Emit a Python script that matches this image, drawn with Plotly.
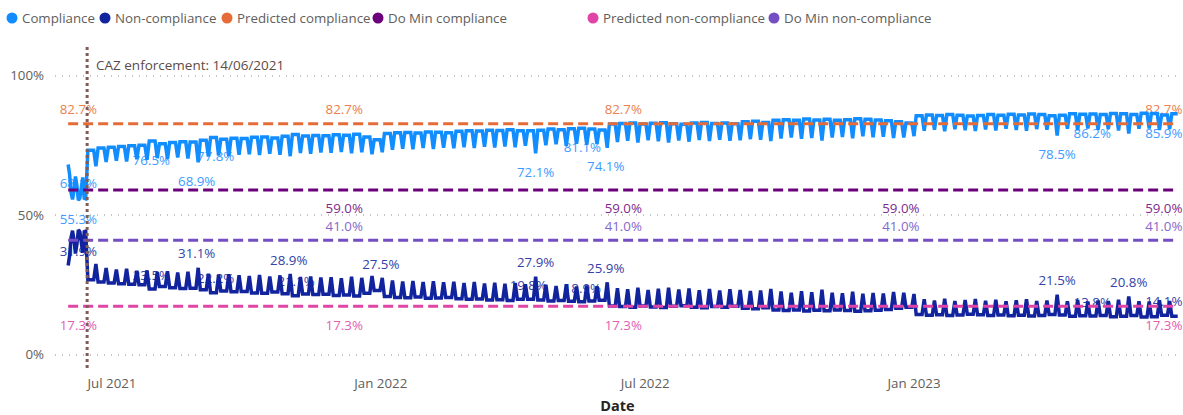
"""CAZ compliance vs. predicted / Do-Min scenarios, drawn with Plotly.

Daily compliance shows a weekly cycle: a weekday level and a weekend dip.
The values below were read off the reference picture week by week.
"""

import pandas as pd
import plotly.graph_objects as go

# ---------------------------------------------------------------- data ----
# Pre-enforcement days, one value per day (Jun 1 - Jun 13 2021)
EARLY_DATES = pd.date_range("2021-06-01", "2021-06-13", freq="D")
EARLY_COMPLIANCE = [68.1, 64.5, 58.0, 55.6, 59.0, 63.8, 60.5, 55.3, 56.0, 60.0, 63.5, 56.0, 55.8]
EARLY_NON_COMPLIANCE = [31.9, 35.5, 42.0, 44.4, 41.0, 36.2, 39.5, 44.7, 44.0, 40.0, 36.5, 44.0, 44.2]

# After enforcement: one weekday level (Mon-Fri) and one weekend low (Sat-Sun)
# per week, starting with the week of Monday 14 June 2021.
WEEK_START = "2021-06-14"

COMPLIANCE_WEEKDAY = [
    73.2, 74.0, 74.3, 74.6, 74.8, 75.0, 76.5, 75.6, 76.0, 76.3,
    76.2, 76.8, 77.8, 77.2, 77.5, 77.4, 77.9, 78.0, 77.6, 78.2,
    78.9, 78.3, 78.5, 78.4, 78.8, 78.6, 79.0, 78.0, 77.0, 79.2,
    79.5, 79.6, 79.4, 79.8, 79.7, 79.5, 80.0, 80.2, 80.1, 80.4,
    80.3, 80.6, 80.2, 80.2, 80.4, 80.8, 80.6, 80.9, 81.1, 80.8,
    80.5, 82.6, 82.8, 83.0, 82.6, 82.9, 83.1, 82.7, 82.5, 83.0,
    83.2, 82.8, 83.0, 82.7, 83.4, 83.6, 83.2, 84.0, 84.2, 84.0,
    84.4, 84.1, 84.3, 84.0, 84.2, 84.5, 84.3, 84.1, 83.8, 83.4,
    83.0, 85.6, 85.9, 85.7, 86.0, 85.8, 85.5, 85.7, 86.0, 85.8,
    86.1, 85.9, 86.2, 86.0, 85.6, 85.8, 86.3, 86.1, 86.2, 86.0,
    86.4, 86.3, 86.0, 86.5, 86.4, 85.9, 86.3,
]
COMPLIANCE_WEEKEND = [
    67.5, 69.0, 69.5, 69.2, 70.0, 69.8, 70.4, 70.1, 70.6, 70.3,
    68.9, 71.0, 71.4, 71.2, 71.6, 71.8, 71.5, 72.0, 71.6, 71.1,
    72.2, 72.0, 72.4, 72.3, 72.6, 72.1, 72.5, 71.8, 72.5, 73.4,
    73.8, 73.6, 74.0, 73.7, 74.1, 73.9, 74.3, 74.0, 74.5, 74.2,
    74.6, 74.3, 74.8, 72.1, 75.0, 75.4, 74.8, 75.6, 75.2, 75.5,
    74.1, 76.2, 76.6, 76.0, 76.8, 76.4, 76.0, 76.7, 76.3, 76.9,
    76.5, 77.0, 76.6, 76.8, 77.2, 77.0, 76.5, 77.4, 77.8, 77.3,
    77.6, 76.7, 77.8, 78.0, 77.5, 78.2, 77.9, 78.1, 77.6, 77.8,
    78.3, 80.2, 80.6, 80.0, 80.8, 80.4, 80.1, 80.7, 80.3, 80.9,
    80.5, 80.2, 80.8, 80.6, 78.5, 80.9, 80.4, 81.0, 80.6, 80.8,
    80.3, 79.2, 80.9, 81.0, 80.5, 80.8,
]
NON_COMPLIANCE_WEEKDAY = [
    26.8, 26.0, 25.7, 25.4, 25.2, 25.0, 23.5, 24.4, 24.0, 23.7,
    23.8, 23.2, 22.2, 22.8, 22.5, 22.6, 22.1, 22.0, 22.4, 21.8,
    21.1, 21.7, 21.5, 21.6, 21.2, 21.4, 21.0, 22.0, 23.0, 20.8,
    20.5, 20.4, 20.6, 20.2, 20.3, 20.5, 20.0, 19.8, 19.9, 19.6,
    19.7, 19.4, 19.8, 19.8, 19.6, 19.2, 19.4, 19.1, 18.9, 19.2,
    19.5, 17.4, 17.2, 17.0, 17.4, 17.1, 16.9, 17.3, 17.5, 17.0,
    16.8, 17.2, 17.0, 17.3, 16.6, 16.4, 16.8, 16.0, 15.8, 16.0,
    15.6, 15.9, 15.7, 16.0, 15.8, 15.5, 15.7, 15.9, 16.2, 16.6,
    17.0, 14.4, 14.1, 14.3, 14.0, 14.2, 14.5, 14.3, 14.0, 14.2,
    13.9, 14.1, 13.8, 14.0, 14.4, 14.2, 13.7, 13.9, 13.8, 14.0,
    13.6, 13.7, 14.0, 13.5, 13.6, 14.1, 13.7,
]
NON_COMPLIANCE_WEEKEND = [
    32.5, 31.0, 30.5, 30.8, 30.0, 30.2, 29.6, 29.9, 29.4, 29.7,
    31.1, 29.0, 28.6, 28.8, 28.4, 28.2, 28.5, 28.0, 28.4, 28.9,
    27.8, 28.0, 27.6, 27.7, 27.4, 27.9, 27.5, 28.2, 27.5, 26.6,
    26.2, 26.4, 26.0, 26.3, 25.9, 26.1, 25.7, 26.0, 25.5, 25.8,
    25.4, 25.7, 25.2, 27.9, 25.0, 24.6, 25.2, 24.4, 24.8, 24.5,
    25.9, 23.8, 23.4, 24.0, 23.2, 23.6, 24.0, 23.3, 23.7, 23.1,
    23.5, 23.0, 23.4, 23.2, 22.8, 23.0, 23.5, 22.6, 22.2, 22.7,
    22.4, 23.3, 22.2, 22.0, 22.5, 21.8, 22.1, 21.9, 22.4, 22.2,
    21.7, 19.8, 19.4, 20.0, 19.2, 19.6, 19.9, 19.3, 19.7, 19.1,
    19.5, 19.8, 19.2, 19.4, 21.5, 19.1, 19.6, 19.0, 19.4, 19.2,
    19.7, 20.8, 19.1, 19.0, 19.5, 19.2,
]

# Scenario reference levels (%), drawn over the whole data period
PERIOD = ["2021-06-01", "2023-06-30"]
PREDICTED_COMPLIANCE = 82.7
DO_MIN_COMPLIANCE = 59.0
PREDICTED_NON_COMPLIANCE = 17.3
DO_MIN_NON_COMPLIANCE = 41.0

# Data labels shown by the original chart
COMPLIANCE_LABEL_DATES = ["2021-06-08", "2021-06-08", "2021-07-28", "2021-08-28", "2021-09-10",
                          "2022-04-17", "2022-05-19", "2022-06-04", "2023-04-09", "2023-05-03",
                          "2023-06-21"]
COMPLIANCE_LABEL_VALUES = [68.1, 55.3, 76.5, 68.9, 77.8, 72.1, 81.1, 74.1, 78.5, 86.2, 85.9]
NON_COMPLIANCE_LABEL_DATES = ["2021-06-08", "2021-07-28", "2021-08-28", "2021-09-10", "2021-10-30",
                              "2021-11-04", "2022-01-01", "2022-04-12", "2022-04-17", "2022-05-19",
                              "2022-06-04", "2023-04-09", "2023-05-03", "2023-05-28", "2023-06-21"]
NON_COMPLIANCE_LABEL_VALUES = [31.9, 23.5, 31.1, 22.2, 28.9, 21.1, 27.5, 19.8, 27.9, 18.9,
                               25.9, 21.5, 13.8, 20.8, 14.1]
EDGE_LABEL_DATES = ["2021-06-08", "2021-12-07", "2022-06-16", "2023-06-21"]
MIDDLE_LABEL_DATES = ["2021-12-07", "2022-06-16", "2022-12-23", "2023-06-21"]

CAZ_DATE = "2021-06-14"
CAZ_TEXT = "CAZ enforcement: 14/06/2021"

X_TICKS = ["2021-07-01", "2022-01-01", "2022-07-01", "2023-01-01"]
X_TICK_TEXT = ["Jul 2021", "Jan 2022", "Jul 2022", "Jan 2023"]
Y_TICKS = [0, 50, 100]
Y_TICK_TEXT = ["0%", "50%", "100%"]

# --------------------------------------------------------------- style ----
FONT = "Segoe UI, Open Sans, sans-serif"
GREY = "#605E5C"
BLUE = "#118DFF"
NAVY = "#12239E"
ORANGE = "#E66C37"
PURPLE = "#6B007B"
PINK = "#E044A7"
VIOLET = "#744EC2"
CAZ_COLOR = "#7E5D58"

W, H = 1183, 415
PLOT_L, PLOT_R, PLOT_T, PLOT_B = 55, 1180, 44, 368


def weekly_points(weekday, weekend):
    """Weekday level at midday Monday and Friday, weekend low midway through the weekend."""
    xs, ys = [], []
    start = pd.Timestamp(WEEK_START)
    for i, level in enumerate(weekday):
        monday = start + pd.Timedelta(weeks=i)
        xs += [monday + pd.Timedelta(hours=12), monday + pd.Timedelta(days=4, hours=12)]
        ys += [level, level]
        if i < len(weekend):
            xs.append(monday + pd.Timedelta(days=6))
            ys.append(weekend[i])
    return xs, ys


def series(early, weekday, weekend):
    xs, ys = weekly_points(weekday, weekend)
    return list(EARLY_DATES) + xs, list(early) + ys


def label_trace(dates, values, color, below):
    return go.Scatter(
        x=dates,
        y=values,
        mode="markers+text",
        text=[f"{v:.1f}%" for v in values],
        textposition="bottom center" if below else "top center",
        textfont=dict(family=FONT, size=13.3, color=color),
        marker=dict(size=20 if below else 8, color="rgba(0,0,0,0)"),
        hoverinfo="skip",
        showlegend=False,
        cliponaxis=False,
    )


fig = go.Figure()

# labels first so the lines sit on top of them, as in the original
fig.add_trace(label_trace(COMPLIANCE_LABEL_DATES, COMPLIANCE_LABEL_VALUES, "#3D9BFF", True))
fig.add_trace(label_trace(NON_COMPLIANCE_LABEL_DATES, NON_COMPLIANCE_LABEL_VALUES, "#3442A8", False))
fig.add_trace(label_trace(EDGE_LABEL_DATES, [PREDICTED_COMPLIANCE] * 4, "#EA7F4F", False))
fig.add_trace(label_trace(MIDDLE_LABEL_DATES, [DO_MIN_COMPLIANCE] * 4, "#7E2A8C", True))
fig.add_trace(label_trace(MIDDLE_LABEL_DATES, [DO_MIN_NON_COMPLIANCE] * 4, "#8468CC", False))
fig.add_trace(label_trace(EDGE_LABEL_DATES, [PREDICTED_NON_COMPLIANCE] * 4, "#E35DB3", True))

cx, cy = series(EARLY_COMPLIANCE, COMPLIANCE_WEEKDAY, COMPLIANCE_WEEKEND)
nx, ny = series(EARLY_NON_COMPLIANCE, NON_COMPLIANCE_WEEKDAY, NON_COMPLIANCE_WEEKEND)
fig.add_trace(go.Scatter(x=cx, y=cy, mode="lines", name="Compliance",
                         line=dict(color=BLUE, width=3.5), showlegend=False))
fig.add_trace(go.Scatter(x=nx, y=ny, mode="lines", name="Non-compliance",
                         line=dict(color=NAVY, width=3.5), showlegend=False))

for name, level, color in [
    ("Predicted compliance", PREDICTED_COMPLIANCE, ORANGE),
    ("Do Min compliance", DO_MIN_COMPLIANCE, PURPLE),
    ("Predicted non-compliance", PREDICTED_NON_COMPLIANCE, PINK),
    ("Do Min non-compliance", DO_MIN_NON_COMPLIANCE, VIOLET),
]:
    fig.add_trace(go.Scatter(x=PERIOD, y=[level, level], mode="lines", name=name,
                             line=dict(color=color, width=3, dash="10px,5px"),
                             showlegend=False))

# CAZ enforcement marker
fig.add_shape(type="line", x0=CAZ_DATE, x1=CAZ_DATE, yref="paper", y0=0, y1=1,
              line=dict(color=CAZ_COLOR, width=3, dash="dot"))
fig.add_annotation(x=CAZ_DATE, y=1, yref="paper", xanchor="left", yanchor="top",
                   xshift=7, yshift=-10, text=CAZ_TEXT, showarrow=False,
                   font=dict(family=FONT, size=13.5, color="#5E4B48"))

# legend drawn Power BI style: a dot and the name
plot_w = PLOT_R - PLOT_L
plot_h = PLOT_B - PLOT_T
legend_items = [
    ("Compliance", BLUE, 12), ("Non-compliance", NAVY, 105),
    ("Predicted compliance", ORANGE, 227), ("Do Min compliance", PURPLE, 378),
    ("Predicted non-compliance", PINK, 593), ("Do Min non-compliance", VIOLET, 774),
]
legend_y = (PLOT_B - 18) / plot_h
for name, color, px in legend_items:
    fig.add_shape(type="circle", xref="paper", yref="paper",
                  xsizemode="pixel", ysizemode="pixel",
                  xanchor=(px - PLOT_L) / plot_w, yanchor=legend_y,
                  x0=-5.5, x1=5.5, y0=-5.5, y1=5.5,
                  fillcolor=color, line=dict(width=0))
    fig.add_annotation(x=(px + 8 - PLOT_L) / plot_w, y=legend_y, xref="paper", yref="paper",
                       xanchor="left", yanchor="middle", showarrow=False, text=name,
                       font=dict(family=FONT, size=13.3, color=GREY))

fig.update_layout(
    width=W,
    height=H,
    margin=dict(l=PLOT_L, r=W - PLOT_R, t=PLOT_T, b=H - PLOT_B),
    paper_bgcolor="white",
    plot_bgcolor="white",
    font=dict(family=FONT, color=GREY),
    showlegend=False,
    hovermode=False,
)
fig.update_xaxes(
    range=["2021-05-23", "2023-07-02 02:00"],
    tickvals=X_TICKS,
    ticktext=X_TICK_TEXT,
    showgrid=False,
    showline=False,
    zeroline=False,
    ticks="",
    ticklabelstandoff=6,
    tickfont=dict(family=FONT, size=13.3, color=GREY),
    title=dict(text="Date", standoff=9,
               font=dict(family=FONT, size=14.5, color="#252423", weight="bold")),
)
fig.update_yaxes(
    range=[-4.8, 111.3],
    tickvals=Y_TICKS,
    ticktext=Y_TICK_TEXT,
    showgrid=True,
    gridcolor="#C8C6C4",
    gridwidth=1.5,
    griddash="1px,6px",
    zeroline=False,
    showline=False,
    ticks="",
    ticklabelstandoff=10,
    tickfont=dict(family=FONT, size=13.3, color=GREY),
)

# the page body has a default 8px margin; drop it so the figure fills the window
fig.write_html(
    "out.html",
    config={"displayModeBar": False},
    post_script="document.body.style.margin = '0';",
)
